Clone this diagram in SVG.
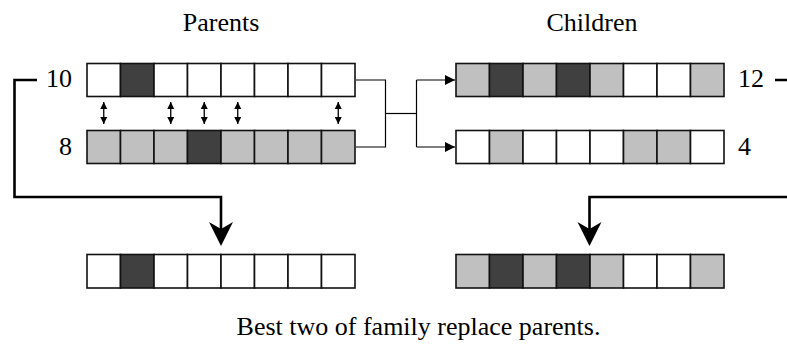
<svg xmlns="http://www.w3.org/2000/svg" width="787" height="345" viewBox="0 0 787 345">
  <style>
    text { font-family: 'Liberation Serif', 'Times New Roman', serif; font-size: 26px; fill: #000; }
    .cell { stroke: #111; stroke-width: 1.6; }
    .w { fill: #ffffff; }
    .g { fill: #c0c0c0; }
    .d { fill: #404040; }
    .thin { fill: none; stroke: #000; stroke-width: 1.2; }
    .thick { fill: none; stroke: #000; stroke-width: 2.6; }
    .swap { fill: none; stroke: #000; stroke-width: 1.3; }
  </style>
  <defs>
    <marker id="tri" viewBox="0 0 10 10" refX="10" refY="5" markerWidth="10" markerHeight="10" markerUnits="userSpaceOnUse" orient="auto">
      <path d="M0,0 L10,5 L0,10 Z" fill="#000"/>
    </marker>
    <marker id="swapHead" viewBox="0 0 10 10" refX="10" refY="5" markerWidth="7" markerHeight="8" markerUnits="userSpaceOnUse" orient="auto-start-reverse">
      <path d="M0,0 L10,5 L0,10 Z" fill="#000"/>
    </marker>
    <polygon id="bigHead" points="0,0 -12,-24 0,-17 12,-24"/>
  </defs>

  <!-- headings -->
  <text x="221" y="31" text-anchor="middle">Parents</text>
  <text x="592" y="31" text-anchor="middle">Children</text>
  <text x="418.5" y="335" text-anchor="middle" font-size="27.6">Best two of family replace parents.</text>

  <!-- parent 1 -->
  <g id="parent1">
    <text x="72" y="87" text-anchor="end">10</text>
    <rect class="cell w" x="87" y="63.5" width="33.5" height="33"/>
    <rect class="cell d" x="120.5" y="63.5" width="33.5" height="33"/>
    <rect class="cell w" x="154" y="63.5" width="33.5" height="33"/>
    <rect class="cell w" x="187.5" y="63.5" width="33.5" height="33"/>
    <rect class="cell w" x="221" y="63.5" width="33.5" height="33"/>
    <rect class="cell w" x="254.5" y="63.5" width="33.5" height="33"/>
    <rect class="cell w" x="288" y="63.5" width="33.5" height="33"/>
    <rect class="cell w" x="321.5" y="63.5" width="33.5" height="33"/>
  </g>

  <!-- parent 2 -->
  <g id="parent2">
    <text x="72" y="155" text-anchor="end">8</text>
    <rect class="cell g" x="87" y="130.5" width="33.5" height="33"/>
    <rect class="cell g" x="120.5" y="130.5" width="33.5" height="33"/>
    <rect class="cell g" x="154" y="130.5" width="33.5" height="33"/>
    <rect class="cell d" x="187.5" y="130.5" width="33.5" height="33"/>
    <rect class="cell g" x="221" y="130.5" width="33.5" height="33"/>
    <rect class="cell g" x="254.5" y="130.5" width="33.5" height="33"/>
    <rect class="cell g" x="288" y="130.5" width="33.5" height="33"/>
    <rect class="cell g" x="321.5" y="130.5" width="33.5" height="33"/>
  </g>

  <!-- child 1 -->
  <g id="child1">
    <text x="738" y="87">12</text>
    <rect class="cell g" x="456" y="63.5" width="33.5" height="33"/>
    <rect class="cell d" x="489.5" y="63.5" width="33.5" height="33"/>
    <rect class="cell g" x="523" y="63.5" width="33.5" height="33"/>
    <rect class="cell d" x="556.5" y="63.5" width="33.5" height="33"/>
    <rect class="cell g" x="590" y="63.5" width="33.5" height="33"/>
    <rect class="cell w" x="623.5" y="63.5" width="33.5" height="33"/>
    <rect class="cell w" x="657" y="63.5" width="33.5" height="33"/>
    <rect class="cell g" x="690.5" y="63.5" width="33.5" height="33"/>
  </g>

  <!-- child 2 -->
  <g id="child2">
    <text x="738" y="155">4</text>
    <rect class="cell w" x="456" y="130.5" width="33.5" height="33"/>
    <rect class="cell g" x="489.5" y="130.5" width="33.5" height="33"/>
    <rect class="cell w" x="523" y="130.5" width="33.5" height="33"/>
    <rect class="cell w" x="556.5" y="130.5" width="33.5" height="33"/>
    <rect class="cell w" x="590" y="130.5" width="33.5" height="33"/>
    <rect class="cell g" x="623.5" y="130.5" width="33.5" height="33"/>
    <rect class="cell g" x="657" y="130.5" width="33.5" height="33"/>
    <rect class="cell w" x="690.5" y="130.5" width="33.5" height="33"/>
  </g>

  <!-- next generation, left -->
  <g id="nextLeft">
    <rect class="cell w" x="87" y="254.5" width="33.5" height="33.5"/>
    <rect class="cell d" x="120.5" y="254.5" width="33.5" height="33.5"/>
    <rect class="cell w" x="154" y="254.5" width="33.5" height="33.5"/>
    <rect class="cell w" x="187.5" y="254.5" width="33.5" height="33.5"/>
    <rect class="cell w" x="221" y="254.5" width="33.5" height="33.5"/>
    <rect class="cell w" x="254.5" y="254.5" width="33.5" height="33.5"/>
    <rect class="cell w" x="288" y="254.5" width="33.5" height="33.5"/>
    <rect class="cell w" x="321.5" y="254.5" width="33.5" height="33.5"/>
  </g>

  <!-- next generation, right -->
  <g id="nextRight">
    <rect class="cell g" x="456" y="254.5" width="33.5" height="33.5"/>
    <rect class="cell d" x="489.5" y="254.5" width="33.5" height="33.5"/>
    <rect class="cell g" x="523" y="254.5" width="33.5" height="33.5"/>
    <rect class="cell d" x="556.5" y="254.5" width="33.5" height="33.5"/>
    <rect class="cell g" x="590" y="254.5" width="33.5" height="33.5"/>
    <rect class="cell w" x="623.5" y="254.5" width="33.5" height="33.5"/>
    <rect class="cell w" x="657" y="254.5" width="33.5" height="33.5"/>
    <rect class="cell g" x="690.5" y="254.5" width="33.5" height="33.5"/>
  </g>

  <g id="connectors">
    <!-- crossover swaps -->
    <path class="swap" d="M103.75,102 V124" marker-start="url(#swapHead)" marker-end="url(#swapHead)"/>
    <path class="swap" d="M170.75,102 V124" marker-start="url(#swapHead)" marker-end="url(#swapHead)"/>
    <path class="swap" d="M204.25,102 V124" marker-start="url(#swapHead)" marker-end="url(#swapHead)"/>
    <path class="swap" d="M237.75,102 V124" marker-start="url(#swapHead)" marker-end="url(#swapHead)"/>
    <path class="swap" d="M338.25,102 V124" marker-start="url(#swapHead)" marker-end="url(#swapHead)"/>

    <!-- parents to children -->
    <path class="thin" d="M356,80 H385.5 V147 H356"/>
    <path class="thin" d="M385.5,113.5 H416.5"/>
    <path class="thin" d="M416.5,80 V147"/>
    <path class="thin" d="M416.5,80 H455" marker-end="url(#tri)"/>
    <path class="thin" d="M416.5,147 H455" marker-end="url(#tri)"/>

    <!-- survivors into next generation -->
    <path class="thick" d="M37,80 H14.5 V197 H221 V232"/>
    <use href="#bigHead" x="221" y="246"/>
    <path class="thick" d="M775,80 H800 V197 H589.5 V232"/>
    <use href="#bigHead" x="589.5" y="246"/>
  </g>
</svg>
